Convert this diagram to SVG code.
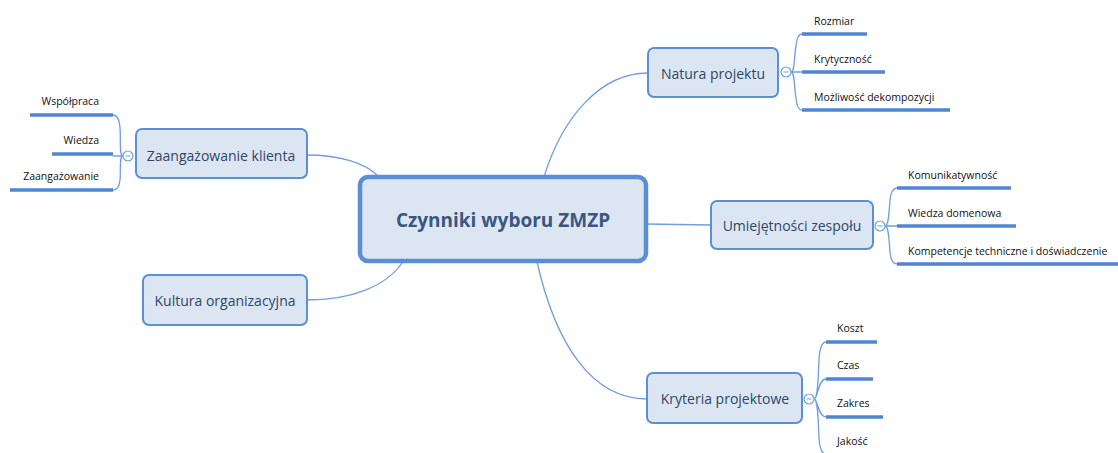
<svg xmlns="http://www.w3.org/2000/svg" width="1118" height="453" viewBox="0 0 1118 453">
<style>
.box{fill:#dce6f2;stroke:#5b8fd6;stroke-width:2}
.main{fill:#dce6f2;stroke:#5a8fd6;stroke-width:4.5}
.t{font-family:"Open Sans","DejaVu Sans",sans-serif;font-size:14px;fill:#2f4668;text-anchor:middle;dominant-baseline:central}
.tm{font-family:"Open Sans","DejaVu Sans",sans-serif;font-size:19px;font-weight:bold;fill:#3b5682;text-anchor:middle;dominant-baseline:central}
.leaf{font-family:"Open Sans","DejaVu Sans",sans-serif;font-size:10.5px;fill:#111}
.ul{stroke:#4f86d4;stroke-width:3.5;fill:none}
.c{stroke:#6f9ee0;stroke-width:1.3;fill:none}
.tog{fill:#fff;stroke:#6f9ee0;stroke-width:1.2}
.minus{stroke:#6f9ee0;stroke-width:1}
</style>
<g id="connectors">
<path class="c" d="M307,155 C340,155 365,163 378,176"/>
<path class="c" d="M307,300 C352,300 386,286 402,263"/>
<path class="c" d="M544,177 C562,118 600,73 648,73"/>
<path class="c" d="M645,224 L711,225"/>
<path class="c" d="M537,262 C556,345 592,399 647,399"/>
</g>
<g id="center">
<rect class="main" x="360" y="177" width="286" height="84" rx="8"/>
<text class="tm" x="503" y="220">Czynniki wyboru ZMZP</text>
</g>
<g id="zaangazowanie">
<rect class="box" x="136" y="129" width="171" height="49" rx="6"/>
<text class="t" x="221" y="155">Zaangażowanie klienta</text>
<path class="c" d="M123,156 L113,156 M123,156 C119,156 121,140 120,128 Q119,115 113,115 M123,156 C119,156 121,172 120,180 Q119,190 113,190"/>
<circle class="tog" cx="128" cy="156" r="5"/><line class="minus" x1="125.5" y1="156" x2="130.5" y2="156"/>
<line class="ul" x1="30" y1="115" x2="113" y2="115"/>
<line class="ul" x1="52" y1="154" x2="113" y2="154"/>
<line class="ul" x1="10" y1="190" x2="113" y2="190"/>
<text class="leaf" x="99" y="105" text-anchor="end">Współpraca</text>
<text class="leaf" x="99" y="144" text-anchor="end">Wiedza</text>
<text class="leaf" x="99" y="180" text-anchor="end">Zaangażowanie</text>
</g>
<g id="kultura">
<rect class="box" x="143" y="275" width="164" height="50" rx="6"/>
<text class="t" x="225" y="300">Kultura organizacyjna</text>
</g>
<g id="natura">
<rect class="box" x="648" y="48" width="130" height="49" rx="6"/>
<text class="t" x="713" y="73">Natura projektu</text>
<path class="c" d="M791,72 L802,72 M791,72 C795,72 794,56 796,46 Q797,34 802,34 M791,72 C795,72 794,88 796,98 Q797,110 802,110"/>
<circle class="tog" cx="786" cy="72" r="5"/><line class="minus" x1="783.5" y1="72" x2="788.5" y2="72"/>
<line class="ul" x1="802" y1="34" x2="867" y2="34"/>
<line class="ul" x1="802" y1="72" x2="885" y2="72"/>
<line class="ul" x1="802" y1="110" x2="950" y2="110"/>
<text class="leaf" x="814" y="25">Rozmiar</text>
<text class="leaf" x="814" y="63">Krytyczność</text>
<text class="leaf" x="814" y="101">Możliwość dekompozycji</text>
</g>
<g id="umiejetnosci">
<rect class="box" x="711" y="201" width="162" height="48" rx="6"/>
<text class="t" x="792" y="225">Umiejętności zespołu</text>
<path class="c" d="M885,226 L897,226 M885,226 C889,226 889,210 890,200 Q891,188 897,188 M885,226 C889,226 889,242 890,252 Q891,264 897,264"/>
<circle class="tog" cx="880" cy="226" r="5"/><line class="minus" x1="877.5" y1="226" x2="882.5" y2="226"/>
<line class="ul" x1="897" y1="188" x2="1011" y2="188"/>
<line class="ul" x1="897" y1="226" x2="1016" y2="226"/>
<line class="ul" x1="897" y1="264" x2="1118" y2="264"/>
<text class="leaf" x="908" y="179">Komunikatywność</text>
<text class="leaf" x="908" y="217">Wiedza domenowa</text>
<text class="leaf" x="908" y="255">Kompetencje techniczne i doświadczenie</text>
</g>
<g id="kryteria">
<rect class="box" x="647" y="373" width="155" height="50" rx="6"/>
<text class="t" x="725" y="398">Kryteria projektowe</text>
<path class="c" d="M814,399 C818,399 818,380 819,360 Q820,342 826,342 M814,399 C818,399 818,379 826,379 M814,399 C818,399 818,417 826,417 M814,399 C818,399 818,418 819,438 Q820,454 826,454"/>
<circle class="tog" cx="809" cy="399" r="5"/><line class="minus" x1="806.5" y1="399" x2="811.5" y2="399"/>
<line class="ul" x1="826" y1="342" x2="877" y2="342"/>
<line class="ul" x1="826" y1="379" x2="873" y2="379"/>
<line class="ul" x1="826" y1="417" x2="883" y2="417"/>
<line class="ul" x1="826" y1="455" x2="870" y2="455"/>
<text class="leaf" x="837" y="332">Koszt</text>
<text class="leaf" x="837" y="369">Czas</text>
<text class="leaf" x="837" y="407">Zakres</text>
<text class="leaf" x="837" y="445">Jakość</text>
</g>
</svg>
